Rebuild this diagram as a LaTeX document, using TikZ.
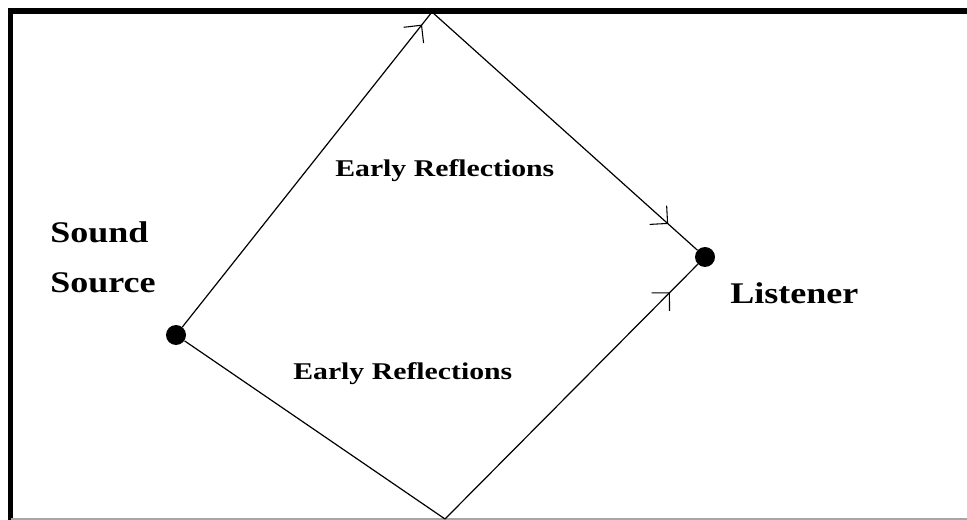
\documentclass[tikz,border=0pt]{standalone}
\usepackage{fontspec}
\setmainfont{Liberation Serif}
\usetikzlibrary{arrows.meta,decorations.markings}
\tikzset{
  dot/.style={circle,fill=black,inner sep=0pt,minimum size=15pt},
  ray/.style={draw=black,line width=0.9pt},
  barb/.style={postaction={decorate},decoration={markings,
     mark=at position #1 with {\arrow{Straight Barb[length=9.5pt,width=19pt,line width=0.8pt]}}}},
  bigtext/.style={font=\bfseries\fontsize{22.5}{26}\selectfont,inner sep=0pt},
  midtext/.style={font=\bfseries\fontsize{18}{21}\selectfont,inner sep=0pt},
}
\begin{document}
\begin{tikzpicture}[x=0.75pt,y=-0.75pt]
\useasboundingbox (0,0) rectangle (967,520);
\fill[white] (0,0) rectangle (967,520);
% frame
\draw[line width=3.8pt,line cap=rect] (10.5,519) -- (10.5,11) -- (967,11);
\draw[gray!70,line width=0.8pt] (10.5,519) -- (967,519);
% points
\node[dot] (src) at (176,335) {};
\node[dot] (lst) at (705,257) {};
\coordinate (topR) at (432,12);
\coordinate (botR) at (445,519);
% rays
\draw[ray,barb=0.96] (src) -- (topR);
\draw[ray,barb=0.89] (topR) -- (lst);
\draw[ray] (src) -- (botR);
\draw[ray,barb=0.89] (botR) -- (lst);
% labels
\node[bigtext,anchor=base west] (t1) at (50,243) {\scalebox{1.2}[1]{Sound}};
\node[bigtext,anchor=base west] (t2) at (50,292) {\scalebox{1.2}[1]{Source}};
\node[bigtext,anchor=base west] (t3) at (730,303) {\scalebox{1.2}[1]{Listener}};
\node[midtext,anchor=base west] (t4) at (335,177) {\scalebox{1.24}[1]{Early Reflections}};
\node[midtext,anchor=base west] (t5) at (293,379) {\scalebox{1.24}[1]{Early Reflections}};
\end{tikzpicture}
\end{document}
